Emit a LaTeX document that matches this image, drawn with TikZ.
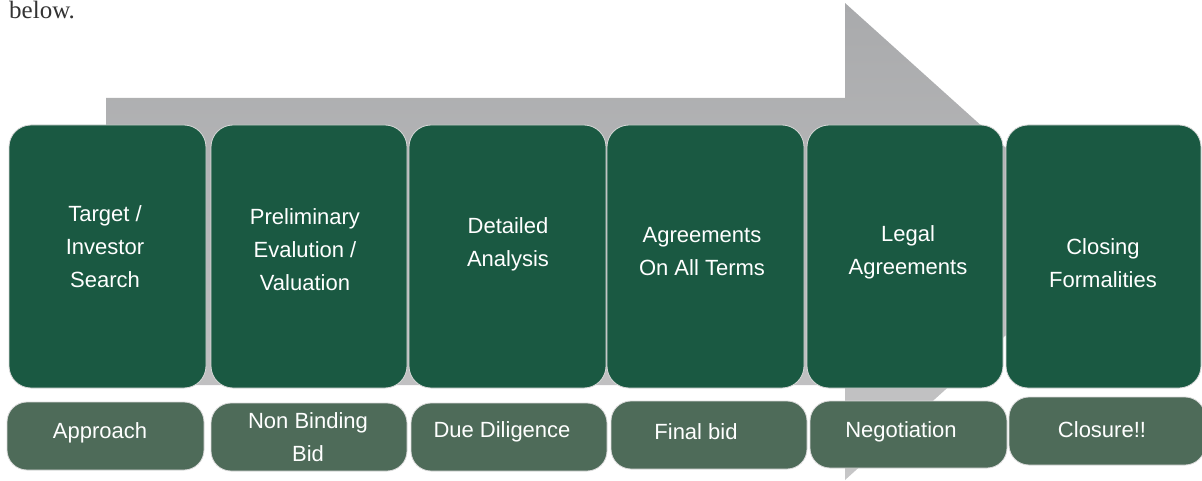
\documentclass[tikz,border=0pt]{standalone}
\usepackage{fontspec}
\setmainfont{Liberation Sans}
\newfontfamily\bodyserif{Liberation Serif}
\begin{document}
\begin{tikzpicture}[x=1pt,y=-1pt,
  upbox/.style={draw=white!85!black, line width=0.8pt, fill=dkgreen, rounded corners=22pt, inner sep=0pt},
  lowbox/.style={draw=white!85!black, line width=0.8pt, fill=ltgreen, rounded corners=20pt, inner sep=0pt},
  lbl/.style={text=white, font=\fontsize{22}{33}\selectfont, align=center, inner sep=0pt}]
\definecolor{dkgreen}{HTML}{1A5942}
\definecolor{ltgreen}{HTML}{4E6B59}
\definecolor{arrowtop}{HTML}{A9AAAC}
\definecolor{arrowbot}{HTML}{C6C6C7}
\definecolor{bodytext}{HTML}{333333}
\useasboundingbox (0,0) rectangle (1202,481);
% big background arrow
\shade[top color=arrowtop, bottom color=arrowbot]
  (106,98) -- (845,98) -- (845,3) -- (1110,241.5) -- (845,480) -- (845,385) -- (106,385) -- cycle;
% leading text
\node[anchor=base west, inner sep=0pt, text=bodytext, font=\bodyserif\fontsize{25}{28}\selectfont] (below) at (9,19) {below.};
% upper boxes
\draw[upbox] (9,125) rectangle (206,388);
\draw[upbox] (211,125) rectangle (407,388);
\draw[upbox] (409,125) rectangle (606,388);
\draw[upbox] (607,125) rectangle (804,388);
\draw[upbox] (807,125) rectangle (1003,388);
\draw[upbox] (1006,125) rectangle (1201,388);
% lower boxes
\draw[lowbox] (7,402) rectangle (204,470);
\draw[lowbox] (211,403) rectangle (407,471);
\draw[lowbox] (411,403) rectangle (607,471);
\draw[lowbox] (611,401) rectangle (807,469);
\draw[lowbox] (810,401) rectangle (1007,468);
\draw[lowbox] (1009,397) rectangle (1205,465);
% upper labels
\node[lbl] (u1) at (105,247) {Target /\\Investor\\Search};
\node[lbl] (u2) at (305,250) {Preliminary\\Evalution /\\Valuation};
\node[lbl] (u3) at (508,244) {Detailed\\Analysis};
\node[lbl] (u4) at (702,252) {Agreements\\On All Terms};
\node[lbl] (u5) at (908,252) {Legal\\Agreements};
\node[lbl] (u6) at (1103,263) {Closing\\Formalities};
% lower labels
\node[lbl] (l1) at (100,433) {Approach};
\node[lbl] (l2) at (308,437) {Non Binding\\Bid};
\node[lbl] (l3) at (502,432) {Due Diligence};
\node[lbl] (l4) at (696,432) {Final bid};
\node[lbl] (l5) at (901,432) {Negotiation};
\node[lbl] (l6) at (1102,430) {Closure!!};
\end{tikzpicture}
\end{document}
